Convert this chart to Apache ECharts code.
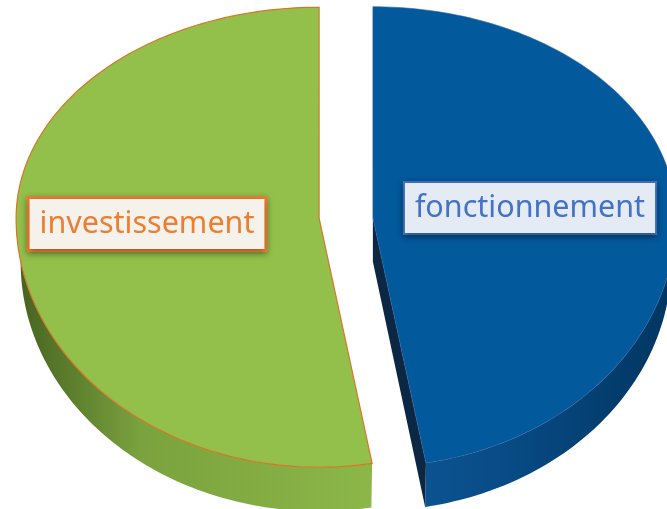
<!DOCTYPE html>
<html>
<head>
    <meta charset="utf-8">
    <title>ECharts</title>
    <script src="https://cdn.jsdelivr.net/npm/echarts@6/dist/echarts.min.js"></script>
</head>
<style>
html,
body {
    margin: 0px;
    width: 100%;
    height: 100%;
    background: #ffffff;
}
div#main {
    width: 667px;
    height: 509px;
}
</style>
<body>
    <div id="main"></div>
    <script type="text/javascript">
        // slices, clockwise from 12 o'clock
        var categories = ['fonctionnement', 'investissement'];
        var values = [47.2, 52.8];

        // look
        var topColors = ['#02599c', '#93c04b'];
        var wallColors = [['#0b5391', '#084a84', '#003560'], ['#45621f', '#7aa23e', '#8cb748']];
        var cutColors = ['#0b2744', '#5a7a2e'];
        var edgeColors = ['#2f5f9e', '#d9752a'];
        var labelColors = ['#4472c4', '#ed7d31'];
        var labelBg = ['#e5ebf5', '#f4f2ea'];
        var labelAnchor = [[530, 208], [147, 224]];

        var CX = 346, CY = 218, RX = 303, RY_TOP = 211, RY_BOT = 249, DEPTH = 44, EXPLODE = 27;
        var RX_LOW = 0.985; // bottom rim seen a little narrower

        var total = values.reduce(function (a, b) { return a + b; }, 0);
        var starts = [];
        var acc = 0;
        values.forEach(function (v) { starts.push(acc / total * Math.PI * 2); acc += v; });

        function pt(cx, cy, t, dy, kx) {
            var c = Math.cos(t);
            return [cx + (kx || 1) * RX * Math.sin(t), cy - (c >= 0 ? RY_TOP : RY_BOT) * c + (dy || 0)];
        }
        function arc(cx, cy, a, b, dy, kx) {
            var pts = [];
            var n = Math.max(2, Math.ceil((b - a) / 0.02));
            for (var i = 0; i <= n; i++) pts.push(pt(cx, cy, a + (b - a) * i / n, dy, kx));
            return pts;
        }

        function renderItem(params, api) {
            var i = params.dataIndex;
            var a = starts[i];
            var b = a + api.value(0) / total * Math.PI * 2;
            var mid = (a + b) / 2;
            var cx = CX + EXPLODE * Math.sin(mid);
            var cy = CY - EXPLODE * 0.1 * Math.cos(mid);
            var children = [];

            // outer wall (front half only)
            var wa = Math.max(a, Math.PI / 2), wb = Math.min(b, Math.PI * 1.5);
            if (wb > wa) {
                var upper = arc(cx, cy, wa, wb, 0, 1);
                var lower = arc(cx, cy, wa, wb, DEPTH, RX_LOW).reverse();
                var stops = wallColors[i];
                children.push({
                    type: 'polygon',
                    shape: { points: upper.concat(lower) },
                    style: {
                        fill: new echarts.graphic.LinearGradient(0, 0, 1, 0, [
                            { offset: 0, color: stops[0] },
                            { offset: 0.35, color: stops[1] },
                            { offset: 1, color: stops[2] }
                        ])
                    }
                });
            }
            // cut face on the end edge when it faces the viewer
            if (b > Math.PI / 2 && b < Math.PI) {
                var e = pt(cx, cy, b, 0, 1);
                var e2 = pt(cx, cy, b, DEPTH, RX_LOW);
                children.push({
                    type: 'polygon',
                    shape: { points: [[cx, cy], e, e2, [cx, cy + DEPTH]] },
                    style: { fill: cutColors[i] }
                });
            }
            // top face
            children.push({
                type: 'polygon',
                shape: { points: [[cx, cy]].concat(arc(cx, cy, a, b, 0, 1)) },
                style: { fill: topColors[i], stroke: edgeColors[i], lineWidth: i === 1 ? 1.2 : 0.6 }
            });
            // label box
            children.push({
                type: 'text',
                x: labelAnchor[i][0],
                y: labelAnchor[i][1],
                style: {
                    text: categories[i],
                    font: '30.5px "Noto Sans"',
                    fill: labelColors[i],
                    align: 'center',
                    verticalAlign: 'middle',
                    backgroundColor: labelBg[i],
                    borderColor: labelColors[i],
                    borderWidth: i === 1 ? 3 : 2,
                    padding: [9, 10, 10, 10],
                    shadowColor: 'rgba(0,0,0,0.35)',
                    shadowBlur: 6,
                    shadowOffsetY: 2
                }
            });
            return { type: 'group', children: children };
        }

        var myChart = echarts.init(document.getElementById('main'));
        myChart.setOption({
            backgroundColor: '#ffffff',
            animation: false,
            series: [{
                type: 'custom',
                coordinateSystem: 'none',
                renderItem: renderItem,
                data: values.map(function (v, i) { return { name: categories[i], value: [v] }; })
            }]
        });
    </script>
</body>
</html>
